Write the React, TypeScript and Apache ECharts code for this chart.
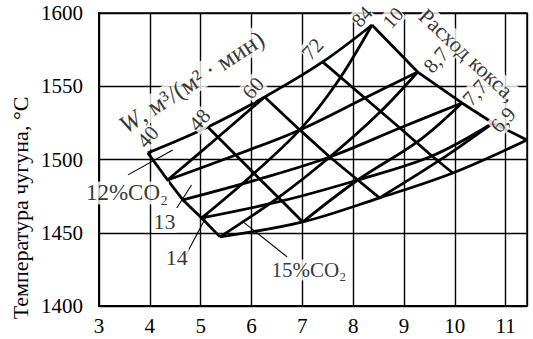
import React, { useEffect, useRef } from "react";
import * as echarts from "echarts";

// X tick labels and Y tick labels
const xTicks = [3, 4, 5, 6, 7, 8, 9, 10, 11];
const yTicks = [1400, 1450, 1500, 1550, 1600];

// Blast-rate lines W (m3/(m2*min)) : nodes from top edge (coke 10) to bottom edge
const W40: [number, number][] = [[3.96, 1504.5], [4.35, 1486.0], [4.65, 1472.4], [5.02, 1460.1], [5.38, 1447.2]];
const W48: [number, number][] = [[5.14, 1522.2], [5.69, 1503.1], [6.16, 1486.7], [6.60, 1471.7], [7.01, 1457.4]];
const W60: [number, number][] = [[6.26, 1542.7], [6.95, 1520.2], [7.54, 1501.7], [8.09, 1486.0], [8.52, 1473.8]];
const W72: [number, number][] = [[7.40, 1566.6], [8.23, 1542.0], [8.92, 1521.5], [9.55, 1502.4], [9.96, 1490.8]];
const W84: [number, number][] = [[8.37, 1591.8], [9.27, 1559.7], [10.14, 1538.6], [10.75, 1524.9], [11.42, 1513.3]];

// Coke-rate curves (left edge to right edge)
const K10 = [W40[0], W48[0], W60[0], W72[0], W84[0]];
const K87 = [W40[1], W48[1], W60[1], W72[1], W84[1]];
const K77 = [W40[2], W48[2], W60[2], W72[2], W84[2]];
const K69 = [W40[3], W48[3], W60[3], W72[3], W84[3]];
const K62 = [W40[4], W48[4], W60[4], W72[4], W84[4]];

// Diagonal lines (CO2)
const D1: [number, number][] = [[6.26, 1542.7], [5.30, 1514.0], [4.35, 1486.0]];
const D2: [number, number][] = [[8.37, 1591.8], [7.69, 1552.9], [6.95, 1520.2], [5.97, 1488.1], [5.02, 1460.1]];
const D3: [number, number][] = [[9.27, 1559.7], [8.53, 1532.4], [7.54, 1501.7], [6.52, 1473.8], [5.38, 1447.2]];
const D4: [number, number][] = [[10.14, 1538.6], [9.31, 1513.3], [8.09, 1486.0], [7.01, 1457.4]];
const D5: [number, number][] = [[10.75, 1524.9], [9.71, 1499.7], [8.52, 1473.8]];

// Leader lines for CO2 labels
const L12: [number, number][] = [[3.57, 1489.5], [4.45, 1506.5]];
const L13: [number, number][] = [[4.53, 1466.9], [4.82, 1482.6]];
const L14: [number, number][] = [[4.69, 1433.5], [5.18, 1465.6]];
const L15: [number, number][] = [[5.81, 1458.1], [6.70, 1433.5]];

// Text annotations on the net: [x, y, text, rotationDeg, fontSize]
const notes: [number, number, string, number, number][] = [
  [3.96, 1515.5, "40", 48, 21],
  [4.98, 1527.0, "48", 48, 21],
  [6.03, 1548.8, "60", 48, 21],
  [7.20, 1575.4, "72", 48, 21],
  [8.17, 1597.6, "84", 48, 20],
  [8.78, 1596.8, "10", 48, 20],
  [4.82, 1553.0, "{i|W}, м³/(м² · мин)", 33, 25],
  [10.26, 1571.3, "Расход кокса,", -43, 22],
  [9.63, 1567.9, "8,7", 48, 21],
  [10.40, 1545.5, "7,7", 48, 21],
  [10.95, 1527.0, "6,9", 48, 21],
];
const co2Notes: [number, number, string, number][] = [
  [3.55, 1477.2, "12%CO₂", 23],
  [4.29, 1457.4, "13", 22],
  [4.53, 1432.8, "14", 22],
  [7.13, 1424.6, "15%CO₂", 21],
];

export default function App() {
  const ref = useRef<HTMLDivElement>(null);
  useEffect(() => {
    if (!ref.current) return;
    const chart = echarts.init(ref.current, undefined, { renderer: "svg" });
    const font = "Liberation Serif";
    const thick = (name: string, data: [number, number][], smooth = false) => ({
      type: "line",
      name,
      data,
      smooth: smooth ? 0.35 : false,
      symbol: "none",
      lineStyle: { color: "#000", width: 2.8 },
      z: 3,
    });
    const thin = (name: string, data: [number, number][]) => ({
      type: "line",
      name,
      data,
      symbol: "none",
      lineStyle: { color: "#000", width: 1.1 },
      z: 3,
    });
    chart.setOption({
      animation: false,
      backgroundColor: "#fff",
      grid: { left: 99, right: 6, top: 13, bottom: 33 },
      xAxis: {
        type: "value",
        min: 3,
        max: 11.42,
        interval: 1,
        axisLine: { show: true, lineStyle: { color: "#000", width: 2 } },
        axisTick: { show: false },
        splitLine: { show: true, lineStyle: { color: "#000", width: 1.4 } },
        axisLabel: {
          color: "#000",
          fontFamily: font,
          fontSize: 21,
          margin: 9,
          formatter: (v: number) => (xTicks.includes(v) ? String(v) : ""),
        },
      },
      yAxis: {
        type: "value",
        min: 1400,
        max: 1600,
        interval: 50,
        axisLine: { show: true, lineStyle: { color: "#000", width: 2 } },
        axisTick: { show: false },
        splitLine: { show: true, lineStyle: { color: "#000", width: 1.4 } },
        axisLabel: {
          color: "#000",
          fontFamily: font,
          fontSize: 21,
          margin: 16,
          formatter: (v: number) => (yTicks.includes(v) ? String(v) : ""),
        },
      },
      graphic: [
        {
          type: "rect",
          shape: { x: 99, y: 13, width: 428, height: 293 },
          style: { fill: "none", stroke: "#000", lineWidth: 1.4 },
          silent: true,
          z: 1,
        },
        {
          type: "text",
          x: 20,
          y: 208,
          rotation: Math.PI / 2,
          style: {
            text: "Температура чугуна, °С",
            font: `22px "${font}"`,
            fill: "#000",
            textAlign: "center",
            textVerticalAlign: "middle",
          },
        },
      ],
      series: [
        thick("W40", W40),
        thick("W48", W48),
        thick("W60", W60),
        thick("W72", W72),
        thick("W84", W84),
        thick("K10", K10, true),
        thick("K87", K87, true),
        thick("K77", K77, true),
        thick("K69", K69, true),
        thick("K62", K62, true),
        thick("D1", D1, true),
        thick("D2", D2, true),
        thick("D3", D3, true),
        thick("D4", D4, true),
        thick("D5", D5, true),
        thin("L12", L12),
        thin("L13", L13),
        thin("L14", L14),
        thin("L15", L15),
        {
          type: "scatter",
          symbolSize: 0,
          z: 5,
          data: notes.map(([x, y, t, r, fs]) => ({
            value: [x, y],
            label: {
              show: true,
              position: "inside",
              formatter: t,
              rotate: r,
              color: "#000",
              fontFamily: font,
              fontSize: fs,
              backgroundColor: "#fff",
              padding: 0,
              rich: { i: { fontStyle: "italic", fontFamily: font, fontSize: fs } },
            },
          })),
        },
        {
          type: "scatter",
          symbolSize: 0,
          z: 5,
          data: co2Notes.map(([x, y, t, fs]) => ({
            value: [x, y],
            label: {
              show: true,
              position: "inside",
              formatter: t,
              color: "#000",
              fontFamily: font,
              fontSize: fs,
              backgroundColor: "#fff",
              padding: [0, 1],
            },
          })),
        },
      ],
    });
    return () => chart.dispose();
  }, []);
  return (
    <div
      ref={ref}
      style={{ position: "fixed", left: 0, top: 0, width: 533, height: 339 }}
    />
  );
}
